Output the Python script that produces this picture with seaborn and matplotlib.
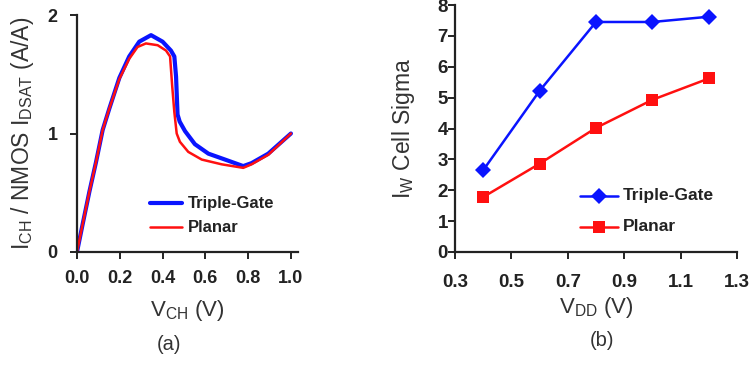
import matplotlib
matplotlib.use("Agg")
import matplotlib.pyplot as plt
import pandas as pd
import seaborn as sns

# (a) normalised channel current vs channel voltage
vch_tg = [0, 0.027, 0.058, 0.089, 0.12, 0.151, 0.198, 0.244, 0.291, 0.346, 0.40,
          0.439, 0.455, 0.463, 0.47, 0.48, 0.505, 0.551, 0.614, 0.692, 0.777,
          0.816, 0.894, 1.0]
ich_tg = [0, 0.24, 0.51, 0.76, 1.03, 1.21, 1.47, 1.65, 1.775, 1.83, 1.775,
          1.70, 1.65, 1.48, 1.16, 1.10, 1.02, 0.91, 0.83, 0.78, 0.725,
          0.75, 0.83, 1.0]
vch_pl = [0, 0.027, 0.058, 0.089, 0.12, 0.151, 0.198, 0.244, 0.283, 0.322, 0.377,
          0.416, 0.435, 0.445, 0.455, 0.466, 0.481, 0.52, 0.583, 0.676, 0.777,
          0.816, 0.894, 1.0]
ich_pl = [0, 0.24, 0.51, 0.76, 1.03, 1.21, 1.46, 1.63, 1.73, 1.76, 1.745,
          1.70, 1.65, 1.40, 1.18, 1.0, 0.93, 0.845, 0.78, 0.74, 0.71,
          0.74, 0.82, 1.0]

# (b) write-current cell sigma vs supply voltage
vdd = [0.4, 0.6, 0.8, 1.0, 1.2]
sigma_tg = [2.65, 5.22, 7.45, 7.45, 7.62]
sigma_pl = [1.78, 2.86, 4.02, 4.93, 5.62]

series = ["Triple-Gate", "Planar"]
colors = {"Triple-Gate": "#0a14ff", "Planar": "#ff1010"}
ink = "#222222"

sns.set_style("ticks")
plt.rcParams["font.family"] = ["Liberation Sans", "DejaVu Sans"]
plt.rcParams["mathtext.fontset"] = "custom"
plt.rcParams["mathtext.rm"] = "Liberation Sans"
plt.rcParams["axes.edgecolor"] = ink
plt.rcParams["axes.linewidth"] = 1.6
plt.rcParams["lines.solid_joinstyle"] = "round"
plt.rcParams["lines.solid_capstyle"] = "round"

df_a = pd.DataFrame({
    "V": vch_tg + vch_pl,
    "I": ich_tg + ich_pl,
    "Device": [series[0]] * len(vch_tg) + [series[1]] * len(vch_pl),
})
df_b = pd.DataFrame({
    "V": vdd + vdd,
    "S": sigma_tg + sigma_pl,
    "Device": [series[0]] * len(vdd) + [series[1]] * len(vdd),
})

fig = plt.figure(figsize=(7.54, 3.66), dpi=100)
ax1 = fig.add_axes([77 / 754, 1 - 252 / 366, 221 / 754, 237 / 366])
ax2 = fig.add_axes([455 / 754, 1 - 252 / 366, 282 / 754, 247 / 366])

# ---- panel (a) ----
sns.lineplot(data=df_a, x="V", y="I", hue="Device", size="Device",
             sizes={"Triple-Gate": 3.0, "Planar": 1.8}, palette=colors,
             sort=False, estimator=None, ax=ax1, legend=False)
ax1.set_xlim(0, 1.033)
ax1.set_ylim(0, 2)
ax1.set_xticks([0, 0.2, 0.4, 0.6, 0.8, 1.0])
ax1.set_xticklabels(["0.0", "0.2", "0.4", "0.6", "0.8", "1.0"])
ax1.set_yticks([0, 1, 2])
ax1.set_yticklabels(["0", "1", "2"])
ax1.set_xlabel(r"$\mathregular{V_{CH}}$ (V)", fontsize=16, color="#333333", labelpad=8)
ax1.set_ylabel(r"$\mathregular{I_{CH}}$ / NMOS $\mathregular{I_{DSAT}}$ (A/A)",
               fontsize=16.5, color="#333333", labelpad=8)
ax1.tick_params(axis="x", pad=8)
ax1.tick_params(axis="y", pad=9)

leg_a_y = [0.41, 0.21]
for yv, name, lw in zip(leg_a_y, series, [3.0, 1.8]):
    ax1.plot([0.34, 0.49], [yv, yv], color=colors[name], lw=lw)
    ax1.text(0.52, yv, name, fontsize=12, fontweight="bold", color=ink,
             va="center", ha="left")

# ---- panel (b) ----
markers = {"Triple-Gate": "D", "Planar": "s"}
sns.lineplot(data=df_b, x="V", y="S", hue="Device", style="Device",
             markers=markers, dashes=False, palette=colors, markersize=8,
             linewidth=1.8, markeredgewidth=0, ax=ax2, legend=False)
ax2.set_xlim(0.3, 1.3)
ax2.set_ylim(0, 8)
ax2.set_xticks([0.3, 0.5, 0.7, 0.9, 1.1, 1.3])
ax2.set_xticklabels(["0.3", "0.5", "0.7", "0.9", "1.1", "1.3"])
ax2.set_yticks(range(9))
ax2.set_yticklabels([str(v) for v in range(9)])
ax2.set_xlabel(r"$\mathregular{V_{DD}}$ (V)", fontsize=16, color="#333333", labelpad=3)
ax2.set_ylabel(r"$\mathregular{I_W}$ Cell Sigma", fontsize=16.5, color="#333333", labelpad=15)
ax2.tick_params(axis="x", pad=11)
ax2.tick_params(axis="y", pad=0)

leg_b_y = [1.82, 0.81]
for yv, name in zip(leg_b_y, series):
    ax2.plot([0.743, 0.878], [yv, yv], color=colors[name], lw=1.8)
    ax2.plot([0.81], [yv], color=colors[name], marker=markers[name],
             markersize=8, markeredgewidth=0, ls="none")
    ax2.text(0.896, yv, name, fontsize=12.5, fontweight="bold", color=ink,
             va="center", ha="left")

for ax, fs in ((ax1, 13), (ax2, 13.5)):
    sns.despine(ax=ax)
    ax.tick_params(direction="out", length=5, width=1.4, colors=ink)
    for lab in ax.get_xticklabels() + ax.get_yticklabels():
        lab.set_fontweight("bold")
        lab.set_fontsize(fs)

fig.text(169 / 754, 1 - 344 / 366, "(a)", ha="center", va="center",
         fontsize=14.5, color="#333333")
fig.text(602 / 754, 1 - 341 / 366, "(b)", ha="center", va="center",
         fontsize=14.5, color="#333333")

fig.savefig("out.png", dpi=100, facecolor="white")
